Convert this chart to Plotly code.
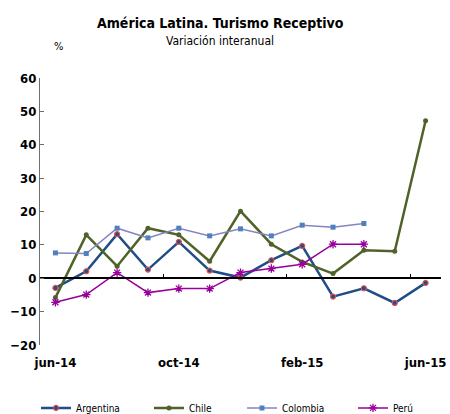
import plotly.graph_objects as go

months = ["jun-14", "jul-14", "ago-14", "sep-14", "oct-14", "nov-14", "dic-14",
          "ene-15", "feb-15", "mar-15", "abr-15", "may-15", "jun-15"]
tick_months = ["jun-14", "oct-14", "feb-15", "jun-15"]

argentina = [-2.9, 2.1, 13.2, 2.6, 10.9, 2.3, 0.2, 5.4, 9.7, -5.5, -3.0, -7.4, -1.4]
chile = [-5.8, 13.0, 3.6, 15.0, 13.0, 5.1, 20.1, 10.2, 4.9, 1.4, 8.4, 8.1, 47.2]
colombia = [7.6, 7.4, 15.0, 12.1, 15.0, 12.7, 14.8, 12.7, 15.9, 15.3, 16.4, None, None]
peru = [-7.2, -4.9, 1.7, -4.3, -3.1, -3.1, 1.7, 2.9, 4.2, 10.2, 10.2, None, None]

y_ticks = [-20, -10, 0, 10, 20, 30, 40, 50, 60]
boundary_ticks = [3.5, 7.5, 11.5]

FONT = "DejaVu Sans Condensed, DejaVu Sans, sans-serif"

fig = go.Figure()
fig.add_trace(go.Scatter(
    x=months, y=argentina, name="Argentina", mode="lines+markers", legend="legend",
    line=dict(color="#1F4E86", width=2.5),
    marker=dict(symbol="circle", size=5, color="#1F4E86", line=dict(color="#E0504D", width=1.2))))
fig.add_trace(go.Scatter(
    x=months, y=chile, name="Chile", mode="lines+markers", legend="legend2",
    line=dict(color="#4F6228", width=2.5),
    marker=dict(symbol="circle", size=5, color="#4F6228")))
fig.add_trace(go.Scatter(
    x=months, y=colombia, name="Colombia", mode="lines+markers", legend="legend3",
    line=dict(color="#8585C0", width=1.5),
    marker=dict(symbol="square", size=5, color="#4F81BD")))
fig.add_trace(go.Scatter(
    x=months, y=peru, name="Perú", mode="lines+markers", legend="legend4",
    line=dict(color="#990099", width=1.5),
    marker=dict(symbol="asterisk-open", size=7, color="#990099", line=dict(color="#990099", width=1.3))))

leg_common = dict(orientation="h", xref="container", yref="paper", yanchor="middle",
                  font=dict(family=FONT, size=10, color="#000000"),
                  bgcolor="rgba(0,0,0,0)", itemwidth=30, tracegroupgap=0)
y_leg = -(408 - 345) / 267.5
fig.update_layout(
    legend=dict(x=36 / 450, y=y_leg, **leg_common),
    legend2=dict(x=149 / 450, y=y_leg, **leg_common),
    legend3=dict(x=242 / 450, y=y_leg, **leg_common),
    legend4=dict(x=353 / 450, y=y_leg, **leg_common),
)

fig.update_layout(
    width=450, height=414,
    margin=dict(l=40, r=9, t=77.5, b=69, pad=0, autoexpand=False),
    paper_bgcolor="white", plot_bgcolor="white",
    showlegend=True,
    font=dict(family=FONT, color="#000000"),
    xaxis=dict(type="category", categoryorder="array", categoryarray=months,
               range=[-0.5, 12.5], tickvals=tick_months, ticktext=tick_months,
               showline=False, showgrid=False, zeroline=False, automargin=False,
               ticks="outside", ticklen=5, tickcolor="rgba(0,0,0,0)",
               tickfont=dict(family=FONT, size=13, color="#000000", weight="bold")),
    xaxis2=dict(overlaying="x", anchor="free", position=0.25, side="bottom",
                range=[-0.5, 12.5], tickvals=boundary_ticks, showticklabels=False,
                showline=True, linecolor="#000000", linewidth=1.5, automargin=False,
                ticks="inside", ticklen=4, tickcolor="#000000", tickwidth=1,
                showgrid=False, zeroline=False),
    yaxis=dict(range=[-20, 60], tickvals=y_ticks, showgrid=False, zeroline=False,
               showline=True, linecolor="#6E6E6E", linewidth=1.2, automargin=False,
               ticks="inside", ticklen=4, tickcolor="#6E6E6E",
               tickfont=dict(family=FONT, size=13, color="#000000", weight="bold")),
)

fig.add_trace(go.Scatter(x=[0], y=[0], xaxis="x2", yaxis="y", mode="markers",
                         marker=dict(opacity=0), showlegend=False, hoverinfo="skip"))

fig.add_annotation(text="<b>América Latina. Turismo Receptivo</b>", xref="paper", yref="paper",
                   x=(220 - 40) / 401, y=1 + (77.5 - 22) / 267.5, showarrow=False,
                   font=dict(family=FONT, size=14, color="#000000"), yanchor="middle")
fig.add_annotation(text="Variación interanual", xref="paper", yref="paper",
                   x=(220 - 40) / 401, y=1 + (77.5 - 40) / 267.5, showarrow=False,
                   font=dict(family=FONT, size=12, color="#000000"), yanchor="middle")
fig.add_annotation(text="%", xref="paper", yref="paper",
                   x=(52 - 40) / 401, y=1 + (77.5 - 46) / 267.5, showarrow=False,
                   font=dict(family=FONT, size=11, color="#000000"), yanchor="middle")

fig.write_html("out.html", config={"displayModeBar": False},
               post_script="document.body.style.margin='0px';")
